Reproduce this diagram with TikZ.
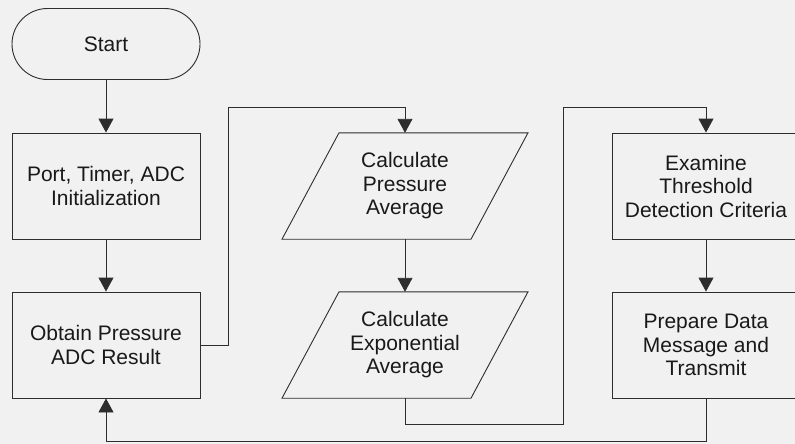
\documentclass[tikz,border=0pt]{standalone}
\usepackage{fontspec}
\setmainfont{Liberation Sans}
\usetikzlibrary{shapes.misc,arrows.meta}
\definecolor{bgc}{RGB}{241,241,241}
\definecolor{linec}{RGB}{45,45,45}
\definecolor{txtc}{RGB}{25,25,25}
\begin{document}
\begin{tikzpicture}[x=1pt,y=-1pt,
  every node/.style={font=\fontsize{21}{23.5}\selectfont, text=txtc, align=center, inner sep=0pt},
  procbox/.style={draw=linec, line width=0.9pt, rectangle, minimum width=188pt, minimum height=106pt},
  startbox/.style={draw=linec, line width=0.9pt, rounded rectangle, minimum width=188pt, minimum height=71pt},
  iobox/.style={rectangle, minimum width=188pt, minimum height=106pt},
  para/.style={draw=linec, line width=0.9pt},
  conn/.style={draw=linec, line width=0.9pt},
  arr/.style={conn, -{Triangle[width=15pt,length=14pt]}}]
\useasboundingbox (0,0) rectangle (795,444);
\fill[bgc] (0,0) rectangle (795,444);
\clip (0,0) rectangle (795,444);

\node[startbox] (start) at (106,44) {Start};
\node[procbox] (b1) at (106,186) {Port, Timer, ADC\\Initialization};
\node[procbox] (b2) at (106,345) {Obtain Pressure\\ADC Result};
\node[iobox] (p1) at (405,186) {Calculate\\Pressure\\Average};
\node[iobox] (p2) at (405,345) {Calculate\\Exponential\\Average};
\node[procbox] (b3) at (706,186) {Examine\\Threshold\\Detection Criteria};
\node[procbox] (b4) at (706,345) {Prepare Data\\Message and\\Transmit};

% parallelograms
\draw[para] ([xshift=-66pt]p1.north) -- ([xshift=123pt]p1.north) -- ([xshift=66pt]p1.south) -- ([xshift=-123pt]p1.south) -- cycle;
\draw[para] ([xshift=-66pt]p2.north) -- ([xshift=123pt]p2.north) -- ([xshift=66pt]p2.south) -- ([xshift=-123pt]p2.south) -- cycle;

\coordinate (c1) at (228,107);
\coordinate (c2) at (563,424);
\coordinate (c3) at (706,107);
\coordinate (c4) at (106,441);

\draw[arr] (start.south) -- (b1.north);
\draw[arr] (b1.south) -- (b2.north);
\draw[arr] (b2.east) -| (c1) -| (p1.north);
\draw[arr] (p1.south) -- (p2.north);
\draw[arr] (p2.south) |- (c2) |- (c3) -- (b3.north);
\draw[arr] (b3.south) -- (b4.north);
\draw[arr] (b4.south) |- (c4) -- (b2.south);
\end{tikzpicture}
\end{document}
